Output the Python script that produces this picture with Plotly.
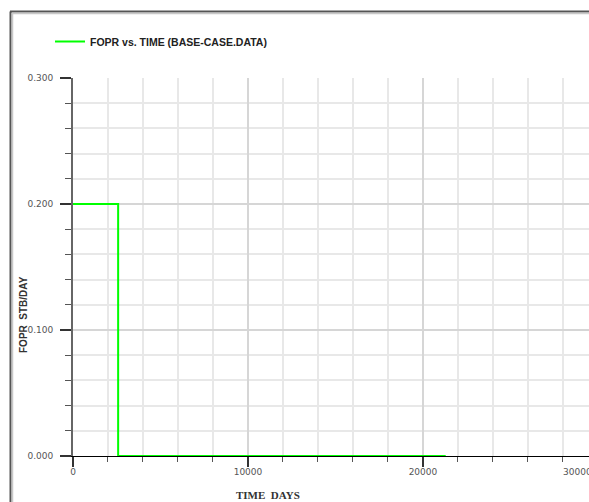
import plotly.graph_objects as go

# FOPR step profile (days, STB/DAY)
time_days = [0, 2580, 21300]
fopr = [0.2, 0.0, 0.0]

series_name = "FOPR vs. TIME (BASE-CASE.DATA)"
y_title = "FOPR  STB/DAY"
x_title = "TIME  DAYS"
edge_tick_label = "30000"

W, H = 589, 502
L, R, T, B = 73, 0, 78, 46
PW, PH = W - L - R, H - T - B

X_MAX = 29490
Y_MAX = 0.3


def px_x(p):
    return (p - L) / PW


def px_y(p):
    return (H - B - p) / PH


fig = go.Figure()
fig.add_trace(go.Scatter(
    x=time_days, y=fopr, mode="lines", line_shape="hv",
    line=dict(color="#00ff00", width=2), name=series_name,
    showlegend=True,
))

tick_font = dict(family="DejaVu Sans", size=9, color="#555555")

fig.update_xaxes(
    range=[0, X_MAX], tick0=0, dtick=10000, tickformat="d",
    showline=True, linecolor="#000000", linewidth=1, layer="below traces",
    ticks="outside", ticklen=10, tickwidth=2, tickcolor="#333333",
    showgrid=True, gridcolor="#d6d6d6", gridwidth=2,
    zeroline=False, tickfont=tick_font, ticklabelstandoff=-3,
    minor=dict(dtick=2000, ticks="outside", ticklen=5, tickwidth=1,
               tickcolor="#555555", showgrid=True, gridcolor="#e8e8e8",
               gridwidth=1.5),
    fixedrange=True,
)
fig.update_yaxes(
    range=[0, Y_MAX], tick0=0, dtick=0.1, tickformat=".3f",
    showline=True, linecolor="#666666", linewidth=2,
    ticks="outside", ticklen=11, tickwidth=2, tickcolor="#333333",
    showgrid=True, gridcolor="#d6d6d6", gridwidth=1.5,
    zeroline=False, tickfont=tick_font, ticklabelstandoff=5,
    minor=dict(dtick=0.02, ticks="outside", ticklen=6, tickwidth=1,
               tickcolor="#555555", showgrid=True, gridcolor="#e8e8e8",
               gridwidth=1.5),
    fixedrange=True,
)

# window frame: dark edge with a light inner bevel
frame = [
    dict(x0=px_x(10.5), x1=px_x(10.5), y0=px_y(H), y1=px_y(11.5), color="#555555", w=2),
    dict(x0=px_x(12.5), x1=px_x(12.5), y0=px_y(H), y1=px_y(13), color="#c8c8c8", w=1.5),
    dict(x0=px_x(10), x1=px_x(W), y0=px_y(11.5), y1=px_y(11.5), color="#555555", w=2),
    dict(x0=px_x(12), x1=px_x(W), y0=px_y(13.5), y1=px_y(13.5), color="#c8c8c8", w=1.5),
]
fig.update_layout(shapes=[
    dict(type="line", xref="paper", yref="paper", x0=f["x0"], x1=f["x1"],
         y0=f["y0"], y1=f["y1"], line=dict(color=f["color"], width=f["w"]),
         layer="above")
    for f in frame
])

fig.update_layout(annotations=[
    dict(text=f"<b>{y_title}</b>", xref="paper", yref="paper",
         x=px_x(23), y=px_y(315), textangle=-90, showarrow=False,
         font=dict(family="Liberation Sans", size=10, color="#333333"),
         xanchor="center", yanchor="middle"),
    dict(text=f"<b>{x_title}</b>", xref="paper", yref="paper",
         x=px_x(268), y=px_y(495), showarrow=False,
         font=dict(family="Liberation Serif", size=11, color="#333333"),
         xanchor="center", yanchor="middle"),
    dict(text=edge_tick_label, xref="paper", yref="paper",
         x=px_x(561), y=px_y(472), showarrow=False,
         font=tick_font, xanchor="left", yanchor="middle"),
])

fig.update_layout(
    width=W, height=H,
    margin=dict(l=L, r=R, t=T, b=B, pad=0),
    paper_bgcolor="#ffffff", plot_bgcolor="#ffffff",
    showlegend=True,
    legend=dict(x=px_x(50), y=px_y(27), xanchor="left", yanchor="top",
                bgcolor="rgba(0,0,0,0)", borderwidth=0,
                font=dict(family="Liberation Sans", size=10.5, color="#222222",
                          weight="bold"),
                itemclick=False, itemdoubleclick=False),
)

fig.write_html("out.html", config={"displayModeBar": False})
